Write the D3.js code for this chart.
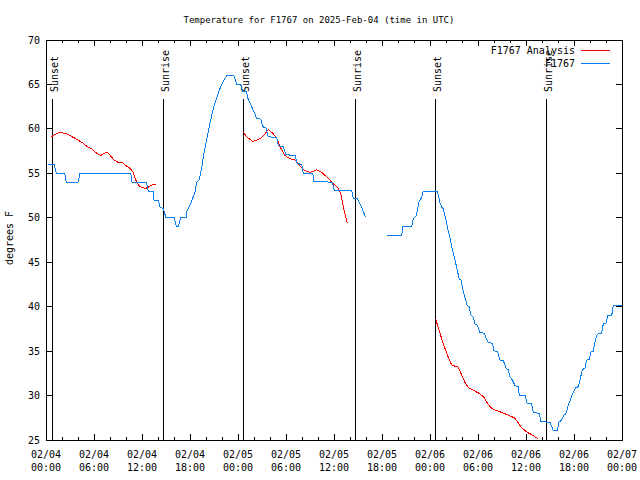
<!DOCTYPE html>
<html>
<head>
<meta charset="utf-8">
<script src="https://cdn.jsdelivr.net/npm/d3@7"></script>
<style>
  html, body { margin: 0; padding: 0; background: #fff; }
  svg { display: block; }
  text { font-family: "DejaVu Sans Mono", "Liberation Mono", monospace; fill: #000; }
</style>
</head>
<body>
<svg id="chart" width="640" height="480"></svg>
<script>
// ---------------- data (hours since 2025-02-04 00:00 UTC, degrees F) ----------------
const titleText = "Temperature for F1767 on 2025-Feb-04 (time in UTC)";
const yLabel = "degrees F";
const seriesNames = ["F1767 Analysis", "F1767"];

const yTicks = [25, 30, 35, 40, 45, 50, 55, 60, 65, 70];
const xMajorHours = [0, 6, 12, 18, 24, 30, 36, 42, 48, 54, 60, 66, 72];

const sunsetHours = [0.70, 24.67, 48.68];
const sunriseHours = [14.67, 38.67, 62.56];

// Observed (F1767) - segment 1
const obsHours1 = [0.25,1.0,1.29,2.34,2.54,4.0,4.25,10.59,10.75,12.54,12.79,13.38,13.5,14.04,14.25,14.66,15.0,16.04,16.29,16.54,16.84,17.5,
  17.59,17.84,18.13,18.34,18.59,18.84,19.16,19.46,19.71,19.96,20.25,20.59,20.91,21.25,21.59,21.91,22.25,22.59,23.5,23.84,24.34,
  24.59,25.09,25.16,25.41,25.71,26.0,26.34,26.84,27.09,27.5,27.79,28.84,29.04,29.66,30.0,31.13,31.41,31.96,32.16,33.34,33.5,
  35.79,36.04,38.21,38.41,38.91,39.16,39.5,39.91];
const obsTemps1 = [56,56,55,55,54,54,55,55,54,54,53,53,52,52,51.2,51,50,50,49,49,50,50,
  50.7,51.1,51.7,52.2,52.75,54,54.25,55.6,57.1,58.2,59.5,61,62.3,63.25,64.2,64.9,65.5,66,66,65,65,
  64.2,64.2,63.6,63.1,62.5,61.9,61.2,61.1,60.25,60.1,59.1,59.05,58.1,58,57.1,57,56.1,56,55,55,54.1,
  54,53.1,53.1,52.2,52.2,51.7,51.1,50.1];

// Observed (F1767) - segment 2
const obsHours2 = [42.66,44.46,44.59,45.71,45.91,46.25,46.41,46.66,46.91,47.16,48.91,49.04,49.25,49.46,49.66,49.96,50.21,50.5,50.79,
  51.13,51.41,51.66,51.88,52.16,52.46,52.66,52.91,53.09,53.41,53.63,53.91,54.25,54.79,55.0,55.29,55.79,56.0,56.46,56.75,57.16,
  57.5,57.79,58.0,58.29,58.63,59.04,59.16,59.88,60.13,60.71,60.91,61.63,61.88,63.0,63.41,63.91,64.13,64.46,64.66,65.0,65.29,
  65.71,65.91,66.25,66.54,66.75,67.04,67.38,67.59,67.91,68.13,68.41,68.63,68.84,69.16,69.46,69.66,70.0,70.21,70.71,70.91,72.0];
const obsTemps2 = [48,48,49,49,49.9,50.2,50.8,51.9,52.2,53,53,52.6,51.7,51.2,51,49.9,48.8,47.7,46.4,
  45.25,44.1,43.1,43,41.7,40.75,40.1,40,39.06,38.8,38.05,37.9,37.1,37,36.5,35.95,35.9,35.05,34.9,34,33.95,
  33.1,32.9,32.1,31.75,31.1,31,30.06,30,29.1,29.05,28.1,28,27.06,27,26.05,26.05,27,27.25,27.7,28,28.9,
  29.95,30.4,30.9,31,31.75,32.9,33.1,34,34.05,34.9,35,36.05,36.8,37,37,38.05,38.1,39,39,40.1,40.1];

// Analysis (F1767 Analysis) - three segments
const anaHours1 = [0.66,1.0,1.34,1.84,2.25,2.75,3.29,3.91,4.54,5.16,5.79,6.34,6.84,7.25,7.66,8.09,8.5,9.0,9.54,9.96,10.5,10.91,
  11.21,11.63,12.04,12.46,12.88,13.29,13.79];
const anaTemps1 = [59.1,59.3,59.5,59.6,59.5,59.4,59.1,58.8,58.45,58.0,57.7,57.25,57.0,57.25,57.35,56.95,56.5,56.25,56.2,55.9,55.55,55.1,
  54.25,53.6,53.4,53.3,53.5,53.7,53.8];
const anaHours2 = [24.66,25.16,25.84,26.34,26.84,27.25,27.79,28.34,28.84,29.25,29.88,30.5,31.13,31.75,32.38,33.0,33.84,34.46,35.09,
  35.84,36.54,36.84,37.16,37.66];
const anaTemps2 = [59.6,59.05,58.6,58.75,58.95,59.3,59.95,59.5,58.95,58.0,57.0,56.65,56.5,55.8,55.3,55.1,55.4,55.1,54.6,
  53.9,53.3,52.75,51.25,49.45];
const anaHours3 = [48.71,48.84,49.13,49.46,49.79,50.09,50.38,50.71,51.13,51.54,51.96,52.38,52.79,53.41,54.04,54.66,55.21,55.71,
  56.34,56.96,57.79,58.63,59.04,59.46,60.09,60.71,61.54];
const anaTemps3 = [38.6,38.2,37.4,36.4,35.5,34.75,34.1,33.45,33.3,33.2,32.3,31.45,30.9,30.6,30.3,29.9,29.1,28.55,
  28.3,28.1,27.8,27.45,26.9,26.4,25.9,25.6,25.1];

// ---------------- drawing ----------------
const W = 640, H = 480;
const M = { left: 46, right: 622, top: 40, bottom: 440 };
const t0 = Date.UTC(2025, 1, 4, 0, 0, 0);
const toDate = h => new Date(t0 + h * 3600e3);

const x = d3.scaleUtc().domain([toDate(0), toDate(72)]).range([M.left, M.right]);
const y = d3.scaleLinear().domain([25, 70]).range([M.bottom, M.top]);

const svg = d3.select("#chart");
svg.append("rect").attr("width", W).attr("height", H).attr("fill", "#fff");

const colors = { ana: "#ff0000", obs: "#0a7ff0" };

// title
svg.append("text").attr("x", 319).attr("y", 23).attr("text-anchor", "middle")
  .style("font-size", "9px").text(titleText);

// y label
svg.append("text").attr("transform", "translate(13,238) rotate(-90)")
  .attr("text-anchor", "middle").style("font-size", "10px").text(yLabel);

// axes ticks
const g = svg.append("g").attr("shape-rendering", "crispEdges");
yTicks.forEach(v => {
  g.append("line").attr("x1", M.left).attr("x2", M.left + 6).attr("y1", y(v)).attr("y2", y(v)).attr("stroke", "#000");
  g.append("line").attr("x1", M.right).attr("x2", M.right - 6).attr("y1", y(v)).attr("y2", y(v)).attr("stroke", "#000");
  svg.append("text").attr("x", 40).attr("y", y(v)).attr("dy", "0.35em").attr("text-anchor", "end")
    .style("font-size", "10px").text(v);
});
const minorTimes = d3.utcHour.every(2).range(toDate(0), toDate(72.01));
minorTimes.forEach(t => {
  const major = t.getUTCHours() % 6 === 0;
  const len = major ? 6 : 3;
  g.append("line").attr("x1", x(t)).attr("x2", x(t)).attr("y1", M.bottom).attr("y2", M.bottom - len).attr("stroke", "#000");
  g.append("line").attr("x1", x(t)).attr("x2", x(t)).attr("y1", M.top).attr("y2", M.top + len).attr("stroke", "#000");
});
const fmtD = d3.utcFormat("%m/%d"), fmtT = d3.utcFormat("%H:%M");
xMajorHours.forEach(h => {
  const t = toDate(h);
  const tx = svg.append("text").attr("text-anchor", "middle").style("font-size", "10px");
  tx.append("tspan").attr("x", x(t)).attr("y", 458).text(fmtD(t));
  tx.append("tspan").attr("x", x(t)).attr("y", 471).text(fmtT(t));
});

// frame
g.append("rect").attr("x", M.left).attr("y", M.top).attr("width", M.right - M.left).attr("height", M.bottom - M.top)
  .attr("fill", "none").attr("stroke", "#000");

// sun lines
const sunEvents = sunsetHours.map(h => ({ h, label: "Sunset" }))
  .concat(sunriseHours.map(h => ({ h, label: "Sunrise" })));
sunEvents.forEach(e => {
  const xx = Math.round(x(toDate(e.h))) + 0.5;
  svg.append("line").attr("x1", xx).attr("x2", xx).attr("y1", 99).attr("y2", M.bottom)
    .attr("stroke", "#000").attr("shape-rendering", "crispEdges");
  svg.append("text").attr("transform", `translate(${xx + 5},92) rotate(-90)`)
    .attr("text-anchor", "start").style("font-size", "10px").text(e.label);
});

// lines
const line = d3.line().x(d => x(toDate(d[0]))).y(d => y(d[1]));
const zip = (a, b) => a.map((v, i) => [v, b[i]]);
[[anaHours1, anaTemps1], [anaHours2, anaTemps2], [anaHours3, anaTemps3]].forEach(([hs, ts]) => {
  svg.append("path").attr("d", line(zip(hs, ts))).attr("fill", "none").attr("stroke", colors.ana)
    .attr("stroke-width", 1).attr("shape-rendering", "crispEdges");
});
[[obsHours1, obsTemps1], [obsHours2, obsTemps2]].forEach(([hs, ts]) => {
  svg.append("path").attr("d", line(zip(hs, ts))).attr("fill", "none").attr("stroke", colors.obs)
    .attr("stroke-width", 1).attr("shape-rendering", "crispEdges");
});

// legend
const legend = [{ name: seriesNames[0], c: colors.ana, yy: 50 }, { name: seriesNames[1], c: colors.obs, yy: 63 }];
legend.forEach(l => {
  svg.append("text").attr("x", 575).attr("y", l.yy).attr("dy", "0.35em").attr("text-anchor", "end")
    .style("font-size", "10px").text(l.name);
  svg.append("line").attr("x1", 581).attr("x2", 610).attr("y1", l.yy + 0.5).attr("y2", l.yy + 0.5)
    .attr("stroke", l.c).attr("shape-rendering", "crispEdges");
});
</script>
</body>
</html>
